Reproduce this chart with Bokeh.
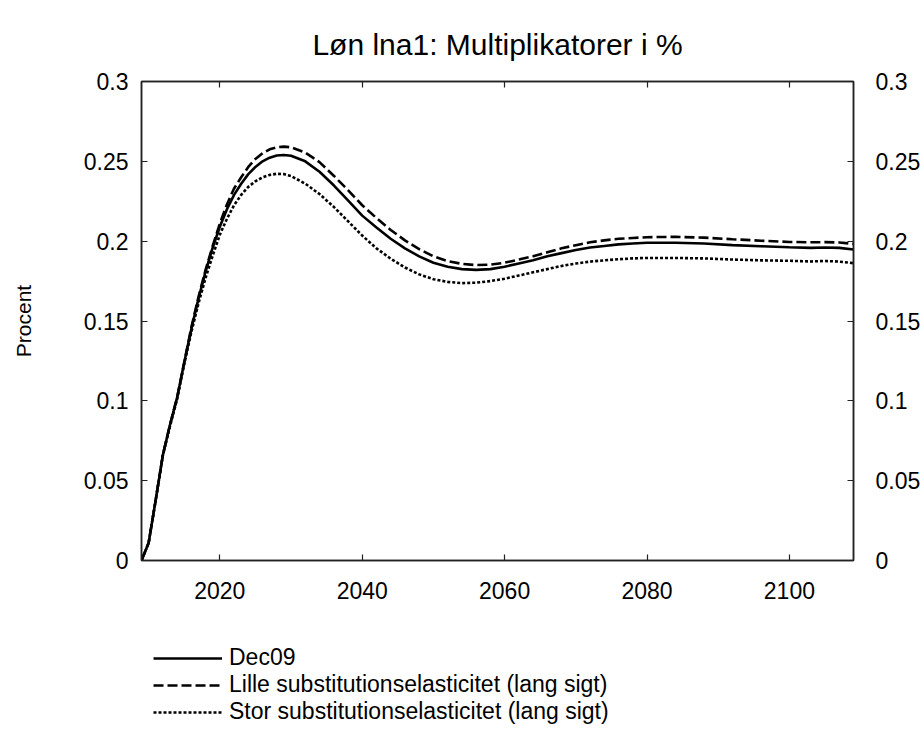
from bokeh.plotting import figure
from bokeh.layouts import column
from bokeh.models import Range1d, LinearAxis, FixedTicker, Legend, LegendItem, Title
from bokeh.embed import file_html
from bokeh.resources import INLINE

# Years at which the multipliers are sampled
years = [2009, 2010, 2011, 2012, 2013, 2014, 2015, 2016, 2017, 2018, 2019,
         2020, 2021, 2022, 2023, 2024, 2025, 2026, 2027, 2028, 2029, 2030,
         2032, 2034, 2036, 2038, 2040, 2042, 2044, 2046, 2048, 2050, 2052,
         2054, 2056, 2058, 2060, 2062, 2064, 2066, 2068, 2070, 2072, 2074,
         2076, 2078, 2080, 2084, 2088, 2092, 2096, 2100, 2103, 2105, 2107, 2109]

# Dec09 baseline
dec09 = [0, 0.011, 0.038, 0.066, 0.085, 0.102, 0.124, 0.145, 0.164, 0.181, 0.196,
         0.209, 0.220, 0.229, 0.236, 0.242, 0.2465, 0.250, 0.2523, 0.2537, 0.254, 0.2535,
         0.250, 0.2435, 0.235, 0.2255, 0.216, 0.2085, 0.2015, 0.1955, 0.1905, 0.1865, 0.184,
         0.1825, 0.182, 0.1825, 0.184, 0.186, 0.188, 0.1905, 0.1925, 0.1945, 0.196, 0.197,
         0.198, 0.1985, 0.199, 0.199, 0.1985, 0.1975, 0.1968, 0.1962, 0.1958, 0.196, 0.1958, 0.1948]

# Small long-run substitution elasticity
lille = [0, 0.011, 0.038, 0.066, 0.085, 0.102, 0.124, 0.146, 0.165, 0.182, 0.197,
         0.211, 0.223, 0.233, 0.240, 0.2465, 0.2515, 0.255, 0.2575, 0.2588, 0.2592, 0.2588,
         0.2555, 0.2495, 0.241, 0.232, 0.2225, 0.2145, 0.207, 0.2005, 0.195, 0.1905, 0.1875,
         0.1858, 0.185, 0.1853, 0.1865, 0.1885, 0.1905, 0.193, 0.1955, 0.1975, 0.1993, 0.2005,
         0.2015, 0.202, 0.2025, 0.2027, 0.2022, 0.2012, 0.2003, 0.1995, 0.1993, 0.1994, 0.1992, 0.1983]

# Large long-run substitution elasticity
stor = [0, 0.011, 0.038, 0.066, 0.084, 0.101, 0.123, 0.143, 0.161, 0.177, 0.191,
        0.204, 0.214, 0.2225, 0.229, 0.234, 0.2375, 0.240, 0.2415, 0.2422, 0.242, 0.2408,
        0.236, 0.2295, 0.2215, 0.2125, 0.2035, 0.1955, 0.189, 0.1835, 0.1792, 0.1762, 0.1745,
        0.1737, 0.174, 0.175, 0.1765, 0.1785, 0.1805, 0.1825, 0.1845, 0.186, 0.1872, 0.188,
        0.1887, 0.1892, 0.1895, 0.1895, 0.1892, 0.1885, 0.188, 0.1877, 0.1873, 0.1876, 0.1872, 0.1862]

series = [("Dec09", dec09, None),
          ("Lille substitutionselasticitet (lang sigt)", lille, "10 4"),
          ("Stor substitutionselasticitet (lang sigt)", stor, "3 2")]

y_ticks = [0, 0.05, 0.1, 0.15, 0.2, 0.25, 0.3]
y_tick_labels = ["0", "0.05", "0.1", "0.15", "0.2", "0.25", "0.3"]
x_ticks = [2020, 2040, 2060, 2080, 2100]

FONT = "Liberation Sans"
AX_COLOR = "#222222"
LINE_W = 2.6

p = figure(width=923, height=615, output_backend="svg", toolbar_location=None,
           title=None, x_range=Range1d(2009, 2109), y_range=Range1d(0, 0.3),
           min_border_left=141, min_border_right=70, min_border_top=81,
           min_border_bottom=55, x_axis_location=None, y_axis_location=None)
p.grid.visible = False
p.outline_line_color = AX_COLOR
p.outline_line_width = 1.5
p.background_fill_color = "white"
p.border_fill_color = "white"


def style_axis(ax, label_size="23px", standoff=13):
    ax.axis_line_color = AX_COLOR
    ax.axis_line_width = 1.5
    ax.major_tick_in = 6
    ax.major_tick_out = 0
    ax.major_tick_line_color = AX_COLOR
    ax.major_tick_line_width = 1.2
    ax.minor_tick_line_color = None
    ax.major_label_text_font = FONT
    ax.major_label_text_font_size = label_size
    ax.major_label_text_color = "black"
    ax.major_label_standoff = standoff


left = LinearAxis(ticker=FixedTicker(ticks=y_ticks),
                  major_label_overrides=dict(zip(y_ticks, y_tick_labels)),
                  axis_label="Procent", axis_label_text_font=FONT,
                  axis_label_text_font_size="21px", axis_label_text_font_style="normal",
                  axis_label_text_color="black", axis_label_standoff=46)
style_axis(left, standoff=13)
p.add_layout(left, "left")

right = LinearAxis(ticker=FixedTicker(ticks=y_ticks),
                   major_label_overrides=dict(zip(y_ticks, y_tick_labels)))
style_axis(right, standoff=22)
p.add_layout(right, "right")

bottom = LinearAxis(ticker=FixedTicker(ticks=x_ticks))
style_axis(bottom, standoff=21)
p.add_layout(bottom, "below")

# top edge carries tick marks only
top = LinearAxis(ticker=FixedTicker(ticks=x_ticks), major_label_text_alpha=0)
style_axis(top, label_size="0px", standoff=0)
p.add_layout(top, "above")

p.add_layout(Title(text="Løn lna1: Multiplikatorer i %", align="center",
                   text_font=FONT, text_font_size="30px", text_font_style="normal",
                   text_color="black", standoff=42), "above")

for label, vals, dash in series:
    kw = {} if dash is None else {"line_dash": dash}
    p.line(years, vals, line_color="black", line_width=LINE_W, **kw)

# Legend strip underneath the chart; its lines fall outside its own range
leg = figure(width=923, height=118, output_backend="svg", toolbar_location=None,
             x_range=Range1d(0, 1), y_range=Range1d(0, 1), min_border=0)
leg.axis.visible = False
leg.grid.visible = False
leg.outline_line_color = None

items = []
for label, vals, dash in series:
    kw = {} if dash is None else {"line_dash": dash}
    r = leg.line(years, vals, line_color="black", line_width=LINE_W, **kw)
    items.append(LegendItem(label=label, renderers=[r]))

legend = Legend(items=items, location=(12, 8), orientation="vertical",
                glyph_width=69, glyph_height=22, label_standoff=7,
                label_height=22, spacing=0, padding=0, margin=0,
                label_text_font=FONT, label_text_font_size="23px",
                label_text_color="black",
                border_line_color=None, background_fill_alpha=0)
leg.add_layout(legend, "center")

open("out.html", "w").write(file_html(column(p, leg, spacing=0), INLINE))
